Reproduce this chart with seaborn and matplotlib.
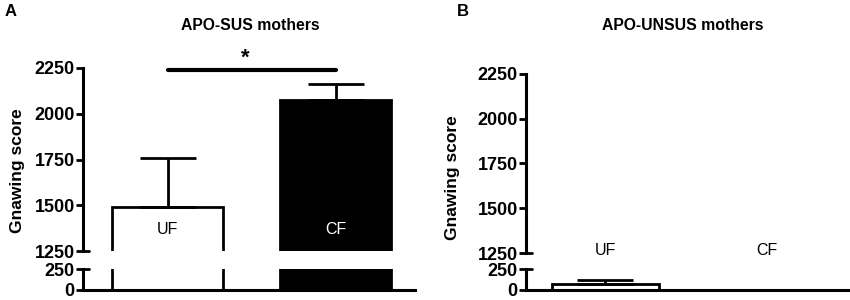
import matplotlib
matplotlib.use("Agg")
import matplotlib.pyplot as plt
import seaborn as sns
import pandas as pd

groups = ["UF", "CF"]
sus_means = [1489, 2076]
sus_sem = [268, 85]
unsus_means = [72, 4]
unsus_sem = [42, 0]

sns.set_style("ticks", rc={"axes.edgecolor": "black", "xtick.color": "black",
                           "ytick.color": "black", "text.color": "black",
                           "axes.labelcolor": "black"})
plt.rcParams["font.family"] = ["Liberation Sans", "DejaVu Sans"]

W, H = 850, 300
fig = plt.figure(figsize=(8.5, 3), dpi=100)


def px_axes(left, right, top, bottom):
    return fig.add_axes([left / W, (H - bottom) / H, (right - left) / W, (bottom - top) / H])


def draw_panel(means, sem, left, right, up_top, up_bot, lo_top, lo_bot, xlim):
    df = pd.DataFrame({"group": groups, "score": means})
    up = px_axes(left, right, up_top, up_bot)
    lo = px_axes(left, right, lo_top, lo_bot)
    for ax in (up, lo):
        sns.barplot(data=df, x="group", y="score", hue="group", palette=["white", "black"],
                    edgecolor="black", linewidth=2, width=0.66, legend=False, ax=ax)
        ax.errorbar([0, 1], means, yerr=[[0, 0], sem], fmt="none", ecolor="black",
                    elinewidth=2, capsize=20, capthick=2, zorder=5)
        ax.set_xlim(*xlim)
        ax.set_xlabel("")
        ax.set_ylabel("")
        ax.set_xticks([])
        ax.tick_params(axis="y", direction="out", length=5, width=2, labelsize=13,
                       pad=1, colors="black")
        for s in ax.spines.values():
            s.set_linewidth(2.2)
            s.set_color("black")
    up.set_ylim(1250, 2250)
    up.set_yticks([1250, 1500, 1750, 2000, 2250])
    sns.despine(ax=up, bottom=True)
    lo.set_ylim(0, 250)
    lo.set_yticks([0, 250])
    sns.despine(ax=lo)
    for ax in (up, lo):
        for lab in ax.get_yticklabels():
            lab.set_fontweight("bold")
    # break stubs
    stub = 6 / (right - left)
    up.plot([0, stub], [1250, 1250], color="black", lw=2, transform=up.get_yaxis_transform(), clip_on=False)
    lo.plot([0, stub], [250, 250], color="black", lw=2, transform=lo.get_yaxis_transform(), clip_on=False)
    return up, lo


upA, loA = draw_panel(sus_means, sus_sem, 83, 415, 68, 251, 269, 290, (-0.503, 1.473))
upA.text(0, 1370, "UF", ha="center", va="center", fontsize=11.5, color="black")
upA.text(1, 1370, "CF", ha="center", va="center", fontsize=11.5, color="white")
upA.plot([0, 1], [2240, 2240], color="black", lw=3, clip_on=False)
upA.text(0.46, 2245, "*", ha="center", va="bottom", fontsize=16, fontweight="bold")

upB, loB = draw_panel(unsus_means, unsus_sem, 526, 848, 74, 253, 269, 290, (-0.49, 1.5))
upB.text(0, 1262, "UF", ha="center", va="center", fontsize=11.5, clip_on=False)
upB.text(1, 1262, "CF", ha="center", va="center", fontsize=11.5, clip_on=False)

fig.text(250 / W, 1 - 25 / H, "APO-SUS mothers", ha="center", va="center", fontsize=11.3, fontweight="bold")
fig.text(683 / W, 1 - 25 / H, "APO-UNSUS mothers", ha="center", va="center", fontsize=11.3, fontweight="bold")
fig.text(18 / W, 1 - 171 / H, "Gnawing score", rotation=90, ha="center", va="center", fontsize=12.5, fontweight="bold")
fig.text(453 / W, 1 - 178 / H, "Gnawing score", rotation=90, ha="center", va="center", fontsize=12.5, fontweight="bold")
fig.text(11 / W, 1 - 11 / H, "A", ha="center", va="center", fontsize=12, fontweight="bold")
fig.text(463 / W, 1 - 12 / H, "B", ha="center", va="center", fontsize=12, fontweight="bold")

fig.savefig("out.png", dpi=100)
